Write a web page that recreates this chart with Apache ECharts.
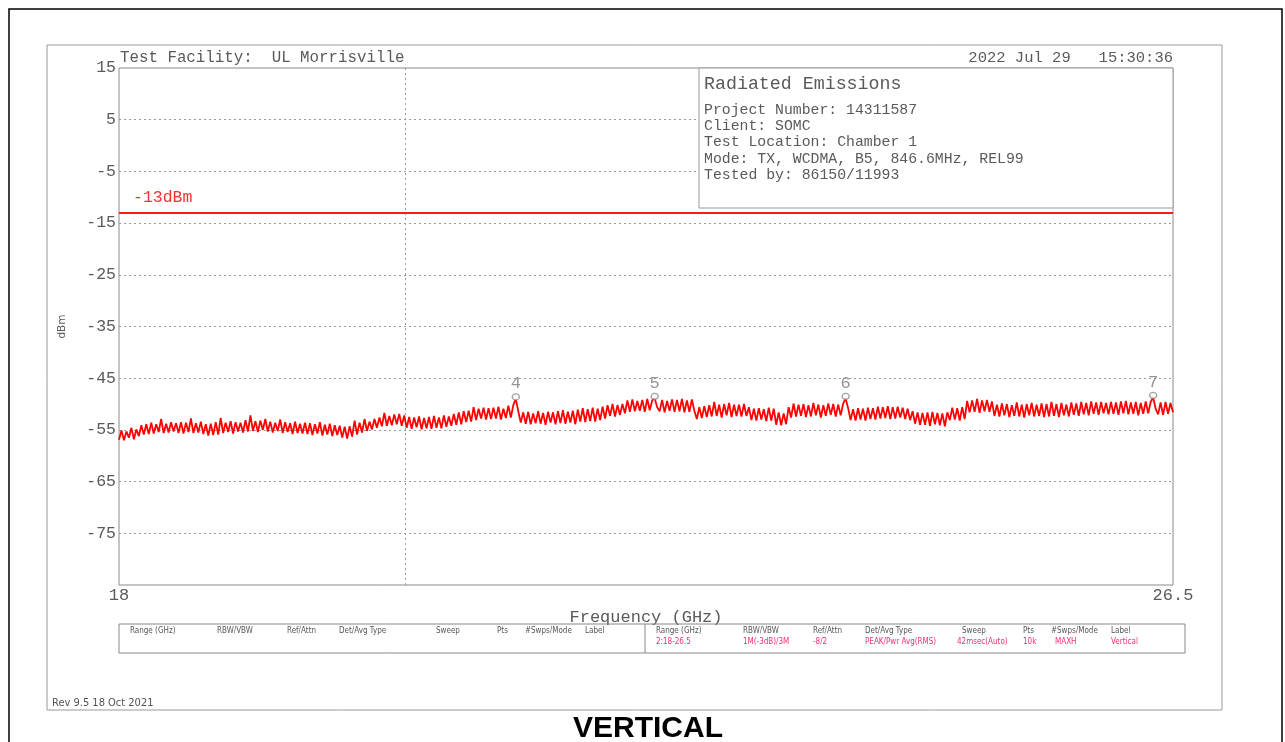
<!DOCTYPE html>
<html><head><meta charset="utf-8">
<script src="https://cdn.jsdelivr.net/npm/echarts@6/dist/echarts.min.js"></script>
<style>html,body{margin:0;padding:0;background:#fff}#c{width:1285px;height:742px}</style>
</head><body><div id="c"></div>
<script>
// ---- data ----
const FREQ_START = 18, FREQ_STOP = 26.5;           // GHz sweep, 0.02 GHz per point
const TRACE_DBM = [
 -56.9,-55.1,-57.0,-55.3,-56.5,-54.6,-56.8,-54.9,-56.2,-54.1,-55.9,-53.9,-55.8,-53.6,-55.7,-53.9,-55.4,-52.9,-55.6,-53.8,-55.5,-53.5,-55.3,-53.7,-55.6,
 -53.5,-55.7,-53.6,-55.4,-52.8,-55.6,-53.7,-55.5,-53.4,-55.8,-53.9,-56.1,-53.8,-56.0,-53.5,-55.9,-52.7,-55.6,-53.6,-55.4,-53.3,-55.7,-53.5,-55.3,-53.6,
 -55.5,-53.1,-55.3,-52.2,-55.2,-53.3,-55.4,-53.2,-55.0,-52.9,-55.3,-53.4,-55.5,-53.6,-55.2,-53.0,-55.6,-53.5,-55.4,-53.7,-55.8,-53.4,-55.6,-53.8,-55.7,
 -53.6,-55.8,-53.7,-56.0,-53.9,-55.7,-53.5,-56.1,-54.0,-55.9,-53.8,-56.2,-54.1,-56.0,-54.2,-56.5,-54.4,-56.7,-54.3,-56.3,-53.2,-55.9,-53.6,-55.5,-52.9,
 -55.2,-53.4,-54.9,-52.9,-54.6,-52.6,-54.3,-51.7,-54.2,-52.3,-54.1,-52.0,-53.9,-51.9,-54.2,-52.2,-54.6,-52.5,-54.8,-52.6,-54.5,-52.4,-54.9,-52.7,-54.7,
 -52.5,-54.8,-52.3,-54.6,-52.6,-54.7,-52.2,-54.4,-52.4,-54.2,-51.9,-54.0,-51.6,-53.9,-51.4,-53.5,-51.3,-53.4,-50.6,-53.1,-50.9,-52.8,-50.7,-53.0,-50.8,
 -52.9,-50.7,-52.8,-50.5,-53.0,-50.9,-52.7,-50.3,-52.6,-50.2,-49.0,-51.4,-53.6,-51.6,-53.8,-51.5,-53.9,-51.8,-53.7,-51.4,-53.8,-51.7,-54.0,-51.5,-53.6,
 -51.6,-53.9,-51.4,-53.7,-51.2,-53.8,-51.5,-53.6,-51.3,-53.9,-51.1,-53.4,-50.8,-53.5,-51.0,-53.3,-50.7,-53.4,-50.9,-53.1,-50.5,-52.8,-50.2,-52.3,-50.0,
 -52.4,-50.2,-52.1,-50.0,-51.8,-49.3,-51.5,-49.1,-51.4,-49.4,-51.3,-49.2,-51.5,-49.0,-51.2,-49.3,-48.9,-50.6,-51.4,-49.2,-51.6,-49.4,-51.3,-49.1,-51.5,
 -49.2,-51.4,-49.0,-51.6,-49.3,-51.5,-49.1,-51.3,-52.9,-50.6,-52.7,-50.4,-52.5,-50.2,-52.4,-49.6,-52.3,-50.1,-52.6,-50.0,-52.2,-49.8,-52.5,-50.1,-52.3,
 -50.1,-52.4,-50.0,-52.3,-50.6,-53.1,-50.9,-53.2,-50.8,-53.0,-51.0,-53.3,-50.7,-53.2,-50.9,-54.0,-51.6,-54.1,-51.8,-53.9,-50.6,-52.6,-49.9,-52.4,-50.1,
 -52.3,-50.0,-52.5,-50.2,-52.4,-49.8,-52.2,-50.1,-52.6,-50.2,-52.3,-49.9,-52.1,-50.0,-52.4,-50.1,-52.2,-49.9,-48.9,-50.8,-53.1,-51.0,-53.2,-50.8,-53.0,
 -50.9,-53.2,-50.7,-52.9,-50.8,-53.0,-50.5,-52.8,-50.6,-52.7,-50.4,-52.9,-50.6,-52.8,-50.5,-52.6,-50.7,-52.9,-50.9,-53.1,-51.4,-53.8,-51.6,-54.0,-51.7,
 -54.0,-51.6,-54.2,-51.5,-53.9,-51.7,-54.1,-51.8,-54.3,-51.6,-53.1,-50.7,-53.0,-50.8,-53.2,-50.6,-52.9,-49.4,-51.6,-49.3,-51.5,-49.0,-51.7,-49.3,-51.4,
 -49.2,-51.5,-49.5,-52.3,-50.1,-52.4,-49.9,-52.2,-50.0,-52.5,-50.2,-52.3,-49.7,-52.4,-50.1,-52.6,-50.0,-52.2,-49.8,-52.4,-50.1,-52.3,-49.9,-52.5,-50.0,
 -52.4,-49.6,-52.3,-50.0,-52.5,-49.8,-52.2,-50.1,-52.4,-49.7,-52.1,-49.9,-52.3,-49.6,-52.0,-49.8,-52.2,-49.5,-51.9,-49.7,-52.1,-49.6,-51.8,-49.8,-52.0,
 -49.6,-51.9,-49.7,-52.1,-49.5,-51.8,-49.4,-52.0,-49.7,-51.9,-49.6,-52.2,-49.8,-51.9,-49.5,-51.8,-49.6,-48.7,-50.9,-52.0,-49.7,-52.1,-49.6,-51.9,-49.8,
 -51.6
];
const LIMIT_DBM = -13;
const Y_MIN = -85, Y_MAX = 15;
const Y_TICKS = [15, 5, -5, -15, -25, -35, -45, -55, -65, -75];
const X_TICKS = [18, 26.5];
const DIVIDER_GHZ = 20.31;
const MARKER_IDS = ['4', '5', '6', '7'];
const MARKER_GHZ = [21.2, 22.32, 23.86, 26.34];
const MARKER_DBM = [-49.0, -48.9, -48.9, -48.7];
const HEADER_LEFT = 'Test Facility:  UL Morrisville';
const HEADER_RIGHT = '2022 Jul 29   15:30:36';
const INFO_TITLE = 'Radiated Emissions';
const INFO_LINES = ['Project Number: 14311587', 'Client: SOMC', 'Test Location: Chamber 1',
  'Mode: TX, WCDMA, B5, 846.6MHz, REL99', 'Tested by: 86150/11993'];
const TABLE_HEAD = ['Range (GHz)', 'RBW/VBW', 'Ref/Attn', 'Det/Avg Type', 'Sweep', 'Pts', '#Swps/Mode', 'Label'];
const TABLE_VALS = ['2:18-26.5', '1M(-3dB)/3M', '-8/2', 'PEAK/Pwr Avg(RMS)', '42msec(Auto)', '10k', 'MAXH', 'Vertical'];
const REV_TEXT = 'Rev 9.5 18 Oct 2021';
const CAPTION = 'VERTICAL';

// ---- build chart ----
const MONO = 'Liberation Mono';
const GRAY = '#5a5a5a';
const step = (FREQ_STOP - FREQ_START) / (TRACE_DBM.length - 1);
const traceData = TRACE_DBM.map((v, i) => [FREQ_START + i * step, v]);

const G = { left: 119, top: 68, width: 1054, height: 517 };

const graphics = [];
graphics.push({ type: 'rect', shape: { x: 9, y: 9, width: 1273, height: 800 }, style: { fill: 'none', stroke: '#000', lineWidth: 1.5 }, silent: true });
graphics.push({ type: 'rect', shape: { x: 47, y: 45, width: 1175, height: 665 }, style: { fill: 'none', stroke: '#999', lineWidth: 1 }, silent: true });
graphics.push({ type: 'text', x: 120, y: 58, style: { text: HEADER_LEFT, font: '15.8px ' + MONO, fill: GRAY, verticalAlign: 'middle' }, z: 10 });
graphics.push({ type: 'text', x: 1173, y: 58, style: { text: HEADER_RIGHT, font: '15.5px ' + MONO, fill: GRAY, align: 'right', verticalAlign: 'middle' }, z: 10 });
graphics.push({ type: 'rect', shape: { x: 699, y: 68, width: 474, height: 140 }, style: { fill: '#fff', stroke: '#999', lineWidth: 1 }, z: 50 });
graphics.push({ type: 'text', x: 704, y: 84, style: { text: INFO_TITLE, font: '18.3px ' + MONO, fill: GRAY, verticalAlign: 'middle' }, z: 51 });
INFO_LINES.forEach((t, i) => {
  graphics.push({ type: 'text', x: 704, y: 110 + i * 16.2, style: { text: t, font: '14.8px ' + MONO, fill: GRAY, verticalAlign: 'middle' }, z: 51 });
});
graphics.push({ type: 'rect', shape: { x: 119, y: 624, width: 1066, height: 29 }, style: { fill: 'none', stroke: '#888', lineWidth: 1 }, z: 10 });
graphics.push({ type: 'line', shape: { x1: 645, y1: 624, x2: 645, y2: 653 }, style: { stroke: '#888', lineWidth: 1 }, z: 10 });
const colOff = [11, 98, 168, 220, 317, 378, 406, 466];
const SMALL = '8px "DejaVu Sans Condensed", "DejaVu Sans"';
[119, 645].forEach(x0 => {
  TABLE_HEAD.forEach((t, i) => {
    graphics.push({ type: 'text', x: x0 + colOff[i], y: 631, style: { text: t, font: SMALL, fill: '#555', verticalAlign: 'middle' }, z: 10 });
  });
});
TABLE_VALS.forEach((t, i) => {
  const dx = i === 4 ? -5 : (i === 6 ? 4 : 0);
  graphics.push({ type: 'text', x: 645 + colOff[i] + dx, y: 642, style: { text: t, font: SMALL, fill: '#e8336d', verticalAlign: 'middle' }, z: 10 });
});
graphics.push({ type: 'text', x: 52, y: 703, style: { text: REV_TEXT, font: '11px "DejaVu Sans Condensed", "DejaVu Sans"', fill: '#555', verticalAlign: 'middle' }, z: 10 });
graphics.push({ type: 'text', x: 648, y: 729, style: { text: CAPTION, font: 'bold 30px "Liberation Sans"', fill: '#000', align: 'center', verticalAlign: 'middle' }, z: 10 });

const gridLines = Y_TICKS.filter(v => v !== Y_MAX).map(v => ({ yAxis: v }));
gridLines.push({ xAxis: DIVIDER_GHZ });

const option = {
  animation: false,
  backgroundColor: '#fff',
  grid: { left: G.left, top: G.top, width: G.width, height: G.height, show: true, borderColor: '#8a8a8a', borderWidth: 1, backgroundColor: 'transparent' },
  xAxis: {
    type: 'value', min: FREQ_START, max: FREQ_STOP, interval: 0.5,
    axisLine: { show: false }, axisTick: { show: false }, splitLine: { show: false },
    axisLabel: { formatter: v => X_TICKS.includes(v) ? String(v) : '', color: GRAY, fontFamily: MONO, fontSize: 17, margin: 2, showMinLabel: true, showMaxLabel: true, hideOverlap: false },
    name: 'Frequency (GHz)', nameLocation: 'middle', nameGap: 21,
    nameTextStyle: { color: GRAY, fontFamily: MONO, fontSize: 17 }
  },
  yAxis: {
    type: 'value', min: Y_MIN, max: Y_MAX, interval: 5,
    axisLine: { show: false }, axisTick: { show: false }, splitLine: { show: false },
    axisLabel: { formatter: v => Y_TICKS.includes(v) ? String(v) : '', color: GRAY, fontFamily: MONO, fontSize: 16.5, margin: 3, showMinLabel: true, showMaxLabel: true, hideOverlap: false },
    name: 'dBm', nameLocation: 'middle', nameGap: 51,
    nameTextStyle: { color: GRAY, fontFamily: 'DejaVu Sans', fontSize: 10.5 }
  },
  graphic: graphics,
  series: [
    {
      type: 'line', data: traceData, showSymbol: false, symbol: 'none', sampling: 'none',
      lineStyle: { color: '#ff0000', width: 1.8 }, z: 3, silent: true,
      markLine: {
        silent: true, symbol: 'none', animation: false,
        lineStyle: { type: [2, 3], color: '#9a9a9a', width: 1 },
        label: { show: false },
        data: gridLines, z: 1
      }
    },
    {
      type: 'scatter', data: MARKER_GHZ.map((f, i) => [f, MARKER_DBM[i]]),
      symbol: 'circle', symbolSize: [7, 6], symbolOffset: [0, -2],
      itemStyle: { color: '#fff', borderColor: '#8a8a8a', borderWidth: 1.3 },
      label: { show: true, position: 'top', distance: 1, formatter: p => MARKER_IDS[p.dataIndex], color: '#7a7a7a', fontFamily: MONO, fontSize: 17 },
      z: 5, silent: true,
      markLine: {
        silent: true, symbol: 'none', animation: false,
        lineStyle: { type: 'solid', color: '#ff1a1a', width: 2 },
        label: { show: true, position: 'insideStartTop', distance: [14, 7], formatter: LIMIT_DBM + 'dBm', color: '#ee3333', fontFamily: MONO, fontSize: 16.5 },
        data: [{ yAxis: LIMIT_DBM }]
      }
    }
  ]
};
const chart = echarts.init(document.getElementById('c'), null, { renderer: 'canvas' });
chart.setOption(option);
</script></body></html>
